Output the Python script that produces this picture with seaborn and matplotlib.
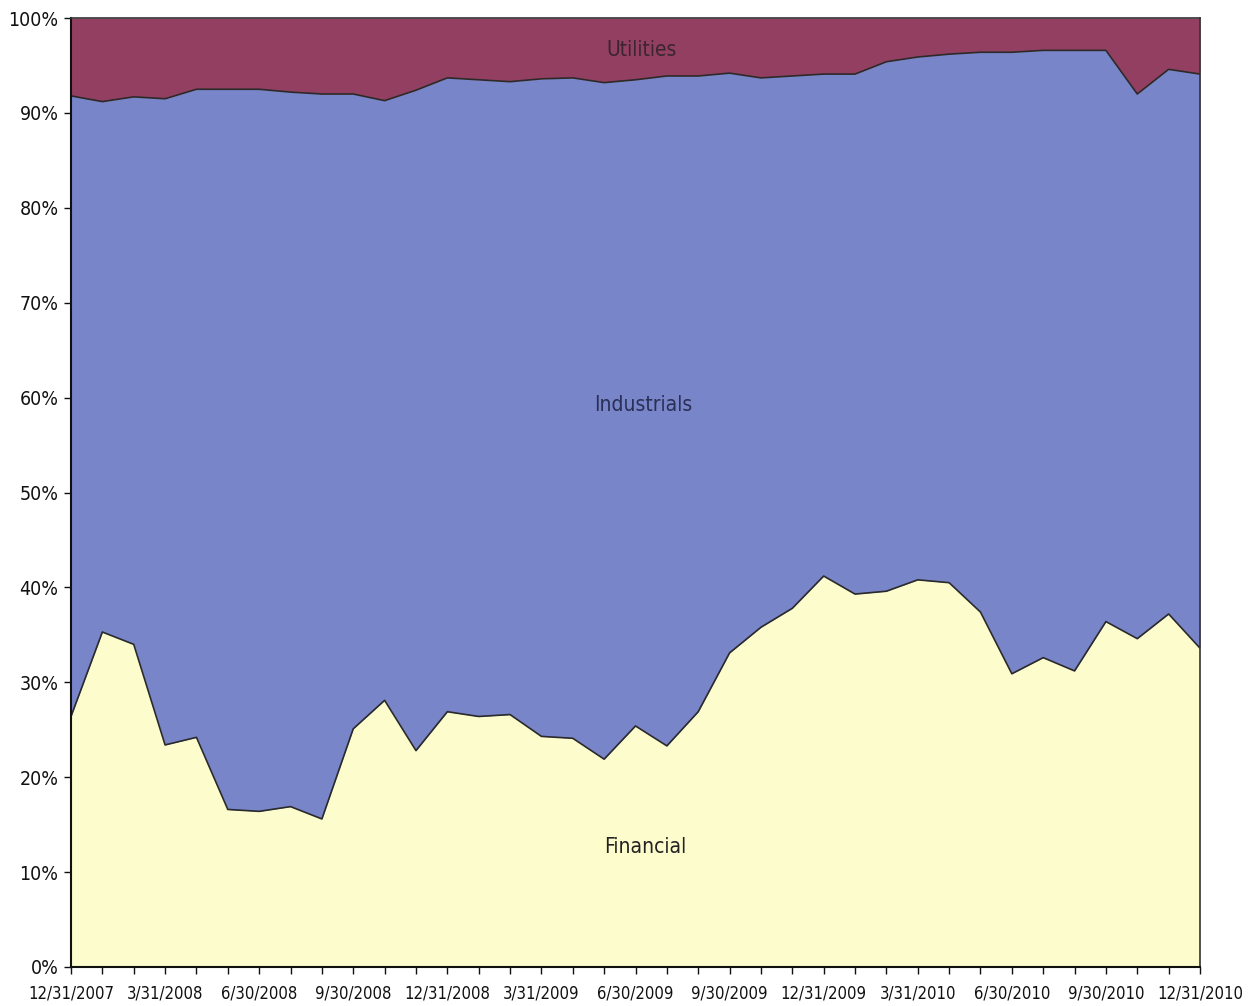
import matplotlib
matplotlib.use("Agg")
import matplotlib.pyplot as plt
import numpy as np
import pandas as pd
import seaborn as sns
from matplotlib.ticker import FuncFormatter, MultipleLocator

# Month-end dates, 12/31/2007 through 12/31/2010
dates = pd.date_range("2007-12-31", "2010-12-31", freq="ME")
quarter_labels = ["12/31/2007", "3/31/2008", "6/30/2008", "9/30/2008", "12/31/2008",
                  "3/31/2009", "6/30/2009", "9/30/2009", "12/31/2009", "3/31/2010",
                  "6/30/2010", "9/30/2010", "12/31/2010"]

# Sector weights (% of portfolio)
financial = [26.4, 35.3, 34.0, 23.4, 24.2, 16.6, 16.4, 16.9, 15.6, 25.1, 28.1, 22.8,
             26.9, 26.4, 26.6, 24.3, 24.1, 21.9, 25.4, 23.3, 26.9, 33.1, 35.8, 37.8,
             41.2, 39.3, 39.6, 40.8, 40.5, 37.4, 30.9, 32.6, 31.2, 36.4, 34.6, 37.2, 33.6]
fin_plus_ind = [91.8, 91.2, 91.7, 91.5, 92.5, 92.5, 92.5, 92.2, 92.0, 92.0, 91.3, 92.4,
                93.7, 93.5, 93.3, 93.6, 93.7, 93.2, 93.5, 93.9, 93.9, 94.2, 93.7, 93.9,
                94.1, 94.1, 95.4, 95.9, 96.2, 96.4, 96.4, 96.6, 96.6, 96.6, 92.0, 94.6, 94.1]
industrials = [round(t - f, 1) for t, f in zip(fin_plus_ind, financial)]
utilities = [round(100 - t, 1) for t in fin_plus_ind]

sectors = ["Financial", "Industrials", "Utilities"]
colors = {"Financial": "#fdfccd", "Industrials": "#7985c9", "Utilities": "#933f62"}

df = pd.DataFrame({"idx": np.arange(len(dates)), "Financial": financial,
                   "Industrials": industrials, "Utilities": utilities})

sns.set_theme(style="white")
plt.rcParams["font.family"] = ["DejaVu Sans"]
plt.rcParams["font.stretch"] = "condensed"

fig = plt.figure(figsize=(12.5, 10.06), dpi=100)
ax = fig.add_axes([0.0568, 0.0388, 0.9032, 0.9432])

lower = np.zeros(len(df))
for s in sectors:
    upper = lower + df[s].to_numpy()
    ax.fill_between(df["idx"], lower, upper, color=colors[s], linewidth=0, zorder=1)
    lower = upper

# Boundary lines between the stacked bands
bounds = pd.DataFrame({"idx": df["idx"],
                       "b1": df["Financial"],
                       "b2": df["Financial"] + df["Industrials"]})
for col in ["b1", "b2"]:
    sns.lineplot(data=bounds, x="idx", y=col, ax=ax, color="#2a2a2a", linewidth=1.2, zorder=2)

ax.set_xlim(0, len(dates) - 1)
ax.set_ylim(0, 100)
ax.set_xlabel("")
ax.set_ylabel("")

ax.set_xticks(np.arange(len(dates)))
ax.set_xticklabels([""] * len(dates))
for i, lab in zip(range(0, len(dates), 3), quarter_labels):
    ax.text(i, -1.9, lab, ha="center", va="top", fontsize=12, color="#111111",
            fontstretch="condensed", clip_on=False)

ax.yaxis.set_major_locator(MultipleLocator(10))
ax.yaxis.set_major_formatter(FuncFormatter(lambda v, p: f"{int(v)}%"))
ax.tick_params(axis="y", labelsize=14, length=5, width=1, color="#111111",
               labelcolor="#111111", direction="out", left=True, pad=4)
ax.tick_params(axis="x", length=5, width=1, color="#111111", direction="out", bottom=True)

for side in ["left", "bottom"]:
    ax.spines[side].set_color("#111111")
    ax.spines[side].set_linewidth(1.5)
for side in ["top", "right"]:
    ax.spines[side].set_color("#333333")
    ax.spines[side].set_linewidth(1.2)

# Band labels
ax.text(18.2, 96.6, "Utilities", ha="center", va="center", fontsize=15,
        color="#3a2530", fontstretch="condensed")
ax.text(18.25, 59.2, "Industrials", ha="center", va="center", fontsize=15,
        color="#2a2f55", fontstretch="condensed")
ax.text(18.3, 12.6, "Financial", ha="center", va="center", fontsize=15,
        color="#222222", fontstretch="condensed")

fig.savefig("out.png", dpi=100, facecolor="white")
